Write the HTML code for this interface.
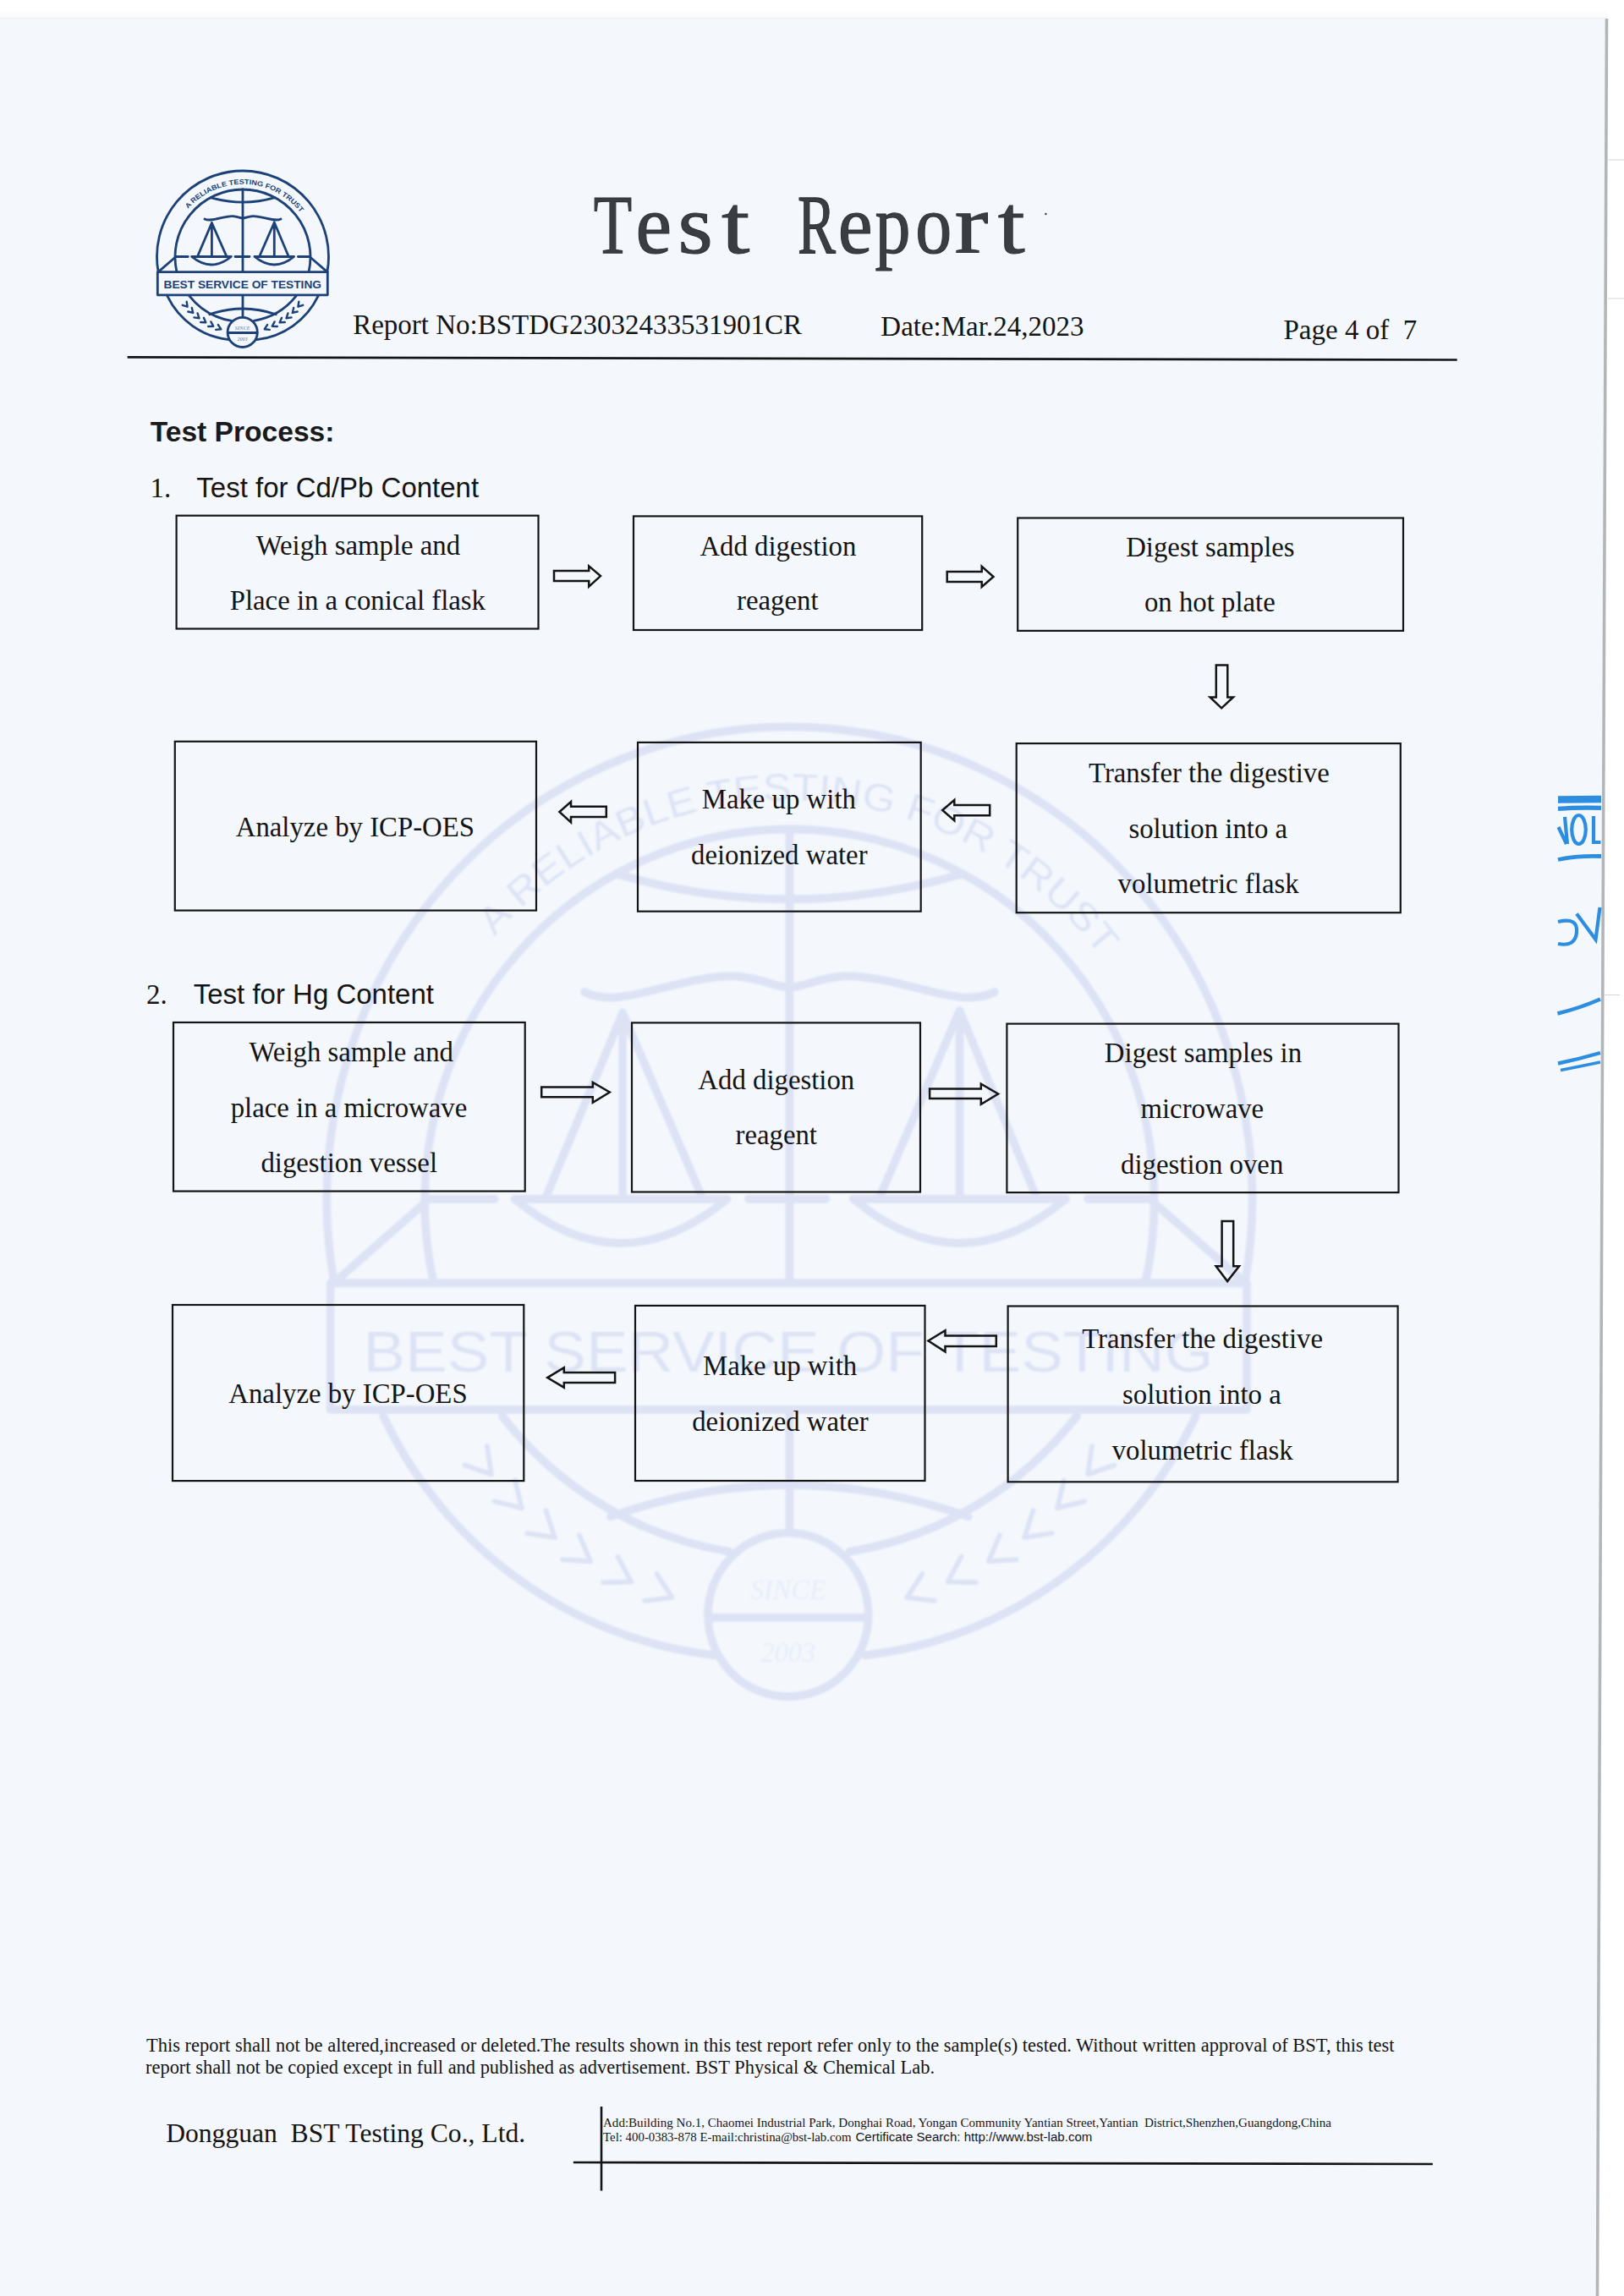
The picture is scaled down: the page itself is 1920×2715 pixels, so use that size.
<!DOCTYPE html><html><head><meta charset="utf-8"><title>Test Report</title>
<style>html,body{margin:0;padding:0;background:#fff;width:1920px;height:2715px;overflow:hidden}svg{position:absolute;left:0;top:0;display:block}text{white-space:pre}</style></head><body>
<svg width="1920" height="2715" viewBox="0 0 1920 2715">
<defs>
<g id="logo" fill="none" stroke="currentColor" stroke-linecap="round" stroke-linejoin="round">
<path d="M187.13,321.6 A101.5,101.5 0 1 1 386.87,321.6"/>
<path d="M208.96,321.6 A80,80 0 1 1 365.04,321.6"/>
<path d="M197.9,350.2 A91.9,91.9 0 0 0 270.5,401.6 M376.1,350.2 A91.9,91.9 0 0 1 303.5,401.6"/>
<path d="M224,350.2 A79.4,79.4 0 0 0 273.8,379.3 M350,350.2 A79.4,79.4 0 0 1 300.2,379.3"/>
<path d="M249,233.6 Q287,244.5 325,233.6"/>
<path d="M247.8,371.8 Q287,358.2 326.2,371.8"/>
<path d="M287,224 L287,321.6 M287,348.8 L287,375"/>
<path d="M187,321.6 L208,303.5 M387,321.6 L366,303.5"/>
<path d="M208,303.5 L222.3,303.5 M278,303.5 L295,303.5 M352.4,303.5 L366,303.5"/>
<path d="M233.4,303.5 L250.4,263.5 L268,303.5 M250.4,263.5 L250.4,303.5"/>
<path d="M306.6,303.5 L324.3,263 L341.3,303.5 M324.3,263 L324.3,303.5"/>
<path d="M226.7,303.5 L273.3,303.5 Q250,322.5 226.7,303.5 M301,303.5 L347.6,303.5 Q324.3,322.5 301,303.5"/>
<path d="M242,259 C250,263 262,255.5 275,255.6 C281,256 284,258 287,258 C290,258 293,256 299,255.6 C312,255.5 324,263 332,259"/>
<rect x="186.3" y="321.6" width="201" height="27.2" fill="#F4F8FD"/>
<circle cx="286.7" cy="392.9" r="17.6" fill="#F4F8FD"/>
<path d="M269.5,393.5 L304,393.5"/>
<path d="M-2.6,-3.2 L2.6,0 L-2.6,3.2" transform="translate(219.9,360.7) rotate(50)" style="stroke-width:var(--cw)"/>
<path d="M2.6,-3.2 L-2.6,0 L2.6,3.2" transform="translate(354.1,360.7) rotate(-50)" style="stroke-width:var(--cw)"/>
<path d="M-2.6,-3.2 L2.6,0 L-2.6,3.2" transform="translate(226.4,368.1) rotate(45)" style="stroke-width:var(--cw)"/>
<path d="M2.6,-3.2 L-2.6,0 L2.6,3.2" transform="translate(347.6,368.1) rotate(-45)" style="stroke-width:var(--cw)"/>
<path d="M-2.6,-3.2 L2.6,0 L-2.6,3.2" transform="translate(233.5,374.6) rotate(40)" style="stroke-width:var(--cw)"/>
<path d="M2.6,-3.2 L-2.6,0 L2.6,3.2" transform="translate(340.5,374.6) rotate(-40)" style="stroke-width:var(--cw)"/>
<path d="M-2.6,-3.2 L2.6,0 L-2.6,3.2" transform="translate(241.2,379.9) rotate(35)" style="stroke-width:var(--cw)"/>
<path d="M2.6,-3.2 L-2.6,0 L2.6,3.2" transform="translate(332.8,379.9) rotate(-35)" style="stroke-width:var(--cw)"/>
<path d="M-2.6,-3.2 L2.6,0 L-2.6,3.2" transform="translate(250,384.5) rotate(30)" style="stroke-width:var(--cw)"/>
<path d="M2.6,-3.2 L-2.6,0 L2.6,3.2" transform="translate(324,384.5) rotate(-30)" style="stroke-width:var(--cw)"/>
<path d="M-2.6,-3.2 L2.6,0 L-2.6,3.2" transform="translate(258.9,388.1) rotate(25)" style="stroke-width:var(--cw)"/>
<path d="M2.6,-3.2 L-2.6,0 L2.6,3.2" transform="translate(315.1,388.1) rotate(-25)" style="stroke-width:var(--cw)"/>
</g>
<g id="logotext" fill="currentColor" stroke="none">
<text x="193.5" y="340.6" font-family="Liberation Sans" font-size="12.4" textLength="186.5" lengthAdjust="spacingAndGlyphs">BEST SERVICE OF TESTING</text>
<path id="arcp" d="M212.35,260.9 A86.2,86.2 0 0 1 361.65,260.9" fill="none" stroke="none"/>
<text font-family="Liberation Sans" font-size="8.2"><textPath href="#arcp" startOffset="17" textLength="151.95" lengthAdjust="spacingAndGlyphs">A RELIABLE TESTING FOR TRUST</textPath></text>
<text x="286.7" y="389.5" font-family="Liberation Serif" font-style="italic" font-size="6" text-anchor="middle" opacity="0.55">SINCE</text>
<text x="286.7" y="403" font-family="Liberation Serif" font-style="italic" font-size="6" text-anchor="middle" opacity="0.55">2003</text>
</g>
</defs>
<polygon points="0,21 1899.5,21 1888.5,2715 0,2715" fill="#F4F8FD"/>
<rect x="0" y="14" width="1900" height="7" fill="#fcfcfd"/>
<rect x="0" y="20.5" width="1900" height="2" fill="#eef3f6"/>
<filter id="wmblur" x="-5%" y="-5%" width="110%" height="110%"><feGaussianBlur stdDeviation="1.2"/></filter>
<g filter="url(#wmblur)"><g color="#dde3f4" style="--cw:1.1" stroke-width="1.8" font-weight="normal" transform="matrix(5.39 0 0 5.5 -613.5 -251.5)"><use href="#logo"/><use href="#logotext"/></g></g>
<line x1="1899.5" y1="22" x2="1888.5" y2="2715" stroke="#b3b6b9" stroke-width="3.6"/>
<path d="M1901,189 L1920,189 M1901,353 L1920,353 M1896,1176.5 L1915,1176.5" stroke="#d4d6d8" stroke-width="1.2"/>
<g color="#1b4178" style="--cw:2.4" stroke-width="2.8" font-weight="bold"><use href="#logo"/><use href="#logotext"/></g>
<g font-family="Liberation Serif" font-size="100" fill="#3a3d41" stroke="#303236" stroke-width="1.1" text-anchor="middle">
<text transform="translate(724.5,298.6) scale(0.744,1)" x="0" y="0" vector-effect="non-scaling-stroke">T</text>
<text transform="translate(772.9,298.6) scale(0.96,1)" x="0" y="0" vector-effect="non-scaling-stroke">e</text>
<text transform="translate(822.1,298.6) scale(1.06,1)" x="0" y="0" vector-effect="non-scaling-stroke">s</text>
<text transform="translate(869.7,298.6) scale(1.2,1)" x="0" y="0" vector-effect="non-scaling-stroke">t</text>
<text transform="translate(965.4,298.6) scale(0.675,1)" x="0" y="0" vector-effect="non-scaling-stroke">R</text>
<text transform="translate(1011.2,298.6) scale(0.92,1)" x="0" y="0" vector-effect="non-scaling-stroke">e</text>
<text transform="translate(1055.5,298.6) scale(0.84,1)" x="0" y="0" vector-effect="non-scaling-stroke">p</text>
<text transform="translate(1103.7,298.6) scale(0.86,1)" x="0" y="0" vector-effect="non-scaling-stroke">o</text>
<text transform="translate(1148.6,298.6) scale(1.2,1)" x="0" y="0" vector-effect="non-scaling-stroke">r</text>
<text transform="translate(1195.8,298.6) scale(1.15,1)" x="0" y="0" vector-effect="non-scaling-stroke">t</text>
</g>
<circle cx="1236.4" cy="253" r="1.3" fill="#444"/>
<g font-family="Liberation Serif" font-size="33" fill="#141414">
<text x="417.2" y="395">Report No:BSTDG23032433531901CR</text>
<text x="1041.3" y="397">Date:Mar.24,2023</text>
<text x="1517.5" y="400.5">Page 4 of  7</text>
</g>
<line x1="150.7" y1="422.4" x2="1722.7" y2="425.5" stroke="#141414" stroke-width="2.6"/>
<text x="177.7" y="522" font-family="Liberation Sans" font-weight="bold" font-size="33.6" fill="#1a1a1a">Test Process:</text>
<text x="177.5" y="588" font-family="Liberation Serif" font-size="33" fill="#141414">1.</text>
<text x="232.3" y="588" font-family="Liberation Sans" font-size="33" fill="#141414">Test for Cd/Pb Content</text>
<text x="173" y="1187.3" font-family="Liberation Serif" font-size="33" fill="#141414">2.</text>
<text x="228.7" y="1187.3" font-family="Liberation Sans" font-size="33" fill="#141414">Test for Hg Content</text>
<g fill="none" stroke="#141414" stroke-width="2.2">
<rect x="208.6" y="609.7" width="427.9" height="133.8"/>
<rect x="749" y="610.4" width="341.2" height="134.6"/>
<rect x="1203.2" y="612.5" width="455.8" height="133.4"/>
<rect x="206.8" y="876.8" width="427.2" height="199.8"/>
<rect x="754" y="877.9" width="334.7" height="199.8"/>
<rect x="1201.7" y="879.1" width="454.1" height="200.1"/>
<rect x="205" y="1209" width="415.7" height="199.6"/>
<rect x="747" y="1209.4" width="341" height="200.1"/>
<rect x="1190.4" y="1210.6" width="463.1" height="199.5"/>
<rect x="204" y="1543" width="415.3" height="208.1"/>
<rect x="751" y="1543.9" width="342.5" height="207.1"/>
<rect x="1191.6" y="1544.5" width="461" height="207.8"/>
</g>
<g font-family="Liberation Serif" font-size="32.8" fill="#141414" text-anchor="middle">
<text x="423.4" y="656.4">Weigh sample and</text>
<text x="422.85" y="721.4">Place in a conical flask</text>
<text x="919.85" y="656.6">Add digestion</text>
<text x="919.3" y="721.2">reagent</text>
<text x="1430.9" y="658">Digest samples</text>
<text x="1430.35" y="722.8">on hot plate</text>
<text x="419.9" y="989.2">Analyze by ICP-OES</text>
<text x="920.85" y="956">Make up with</text>
<text x="921.3" y="1022.3">deionized water</text>
<text x="1429.4" y="924.7">Transfer the digestive</text>
<text x="1428.3" y="990.8">solution into a</text>
<text x="1428.6" y="1055.5">volumetric flask</text>
<text x="415.25" y="1254.5">Weigh sample and</text>
<text x="412.5" y="1321">place in a microwave</text>
<text x="412.7" y="1385.7">digestion vessel</text>
<text x="917.8" y="1288">Add digestion</text>
<text x="917.75" y="1353.2">reagent</text>
<text x="1422.45" y="1256.2">Digest samples in</text>
<text x="1421.35" y="1321.8">microwave</text>
<text x="1421.2" y="1387.7">digestion oven</text>
<text x="411.45" y="1658.8">Analyze by ICP-OES</text>
<text x="922.1" y="1626">Make up with</text>
<text x="922.45" y="1691.6">deionized water</text>
<text x="1421.6" y="1594">Transfer the digestive</text>
<text x="1420.9" y="1660.2">solution into a</text>
<text x="1421.7" y="1725.5">volumetric flask</text>
</g>
<g fill="none" stroke="#141414" stroke-width="2.5" stroke-linejoin="miter">
<polygon points="655,675 696.2,675 696.2,669.4 710,681.1 696.2,693.7 696.2,687 655,687"/>
<polygon points="1119.7,675.9 1160.7,675.9 1160.7,669.7 1174.5,682 1160.7,694 1160.7,687.9 1119.7,687.9"/>
<polygon points="640.2,1285.6 700.8,1285.6 700.8,1280 720.8,1291.5 700.8,1303.7 700.8,1297.3 640.2,1297.3"/>
<polygon points="1099.1,1287.4 1159.8,1287.4 1159.8,1281.7 1180.1,1293.5 1159.8,1305.7 1159.8,1299 1099.1,1299"/>
<polygon points="716.8,953.7 675,953.7 675,948 661.4,960 675,972.5 675,966 716.8,966"/>
<polygon points="1170.2,951.9 1128.3,951.9 1128.3,946 1114.2,958 1128.3,970.3 1128.3,964.2 1170.2,964.2"/>
<polygon points="727.1,1623 666.8,1623 666.8,1617.3 647.2,1629.1 666.8,1640.7 666.8,1634.9 727.1,1634.9"/>
<polygon points="1177.8,1579.4 1117.5,1579.4 1117.5,1573.3 1097.5,1585.5 1117.5,1598.4 1117.5,1591.9 1177.8,1591.9"/>
<polygon points="1437.8,786.6 1451.3,786.6 1451.3,824.5 1458,824.5 1444.2,837.4 1430.6,824.5 1437.8,824.5"/>
<polygon points="1444.6,1444 1458.2,1444 1458.2,1497.3 1465,1497.3 1451.1,1515.1 1437.6,1497.3 1444.6,1497.3"/>
</g>
<g font-family="Liberation Serif" fill="#141414">
<text x="173" y="2425.9" font-size="22.45" textLength="1475.5" lengthAdjust="spacingAndGlyphs">This report shall not be altered,increased or deleted.The results shown in this test report refer only to the sample(s) tested. Without written approval of BST, this test</text>
<text x="172" y="2451.7" font-size="22.45">report shall not be copied except in full and published as advertisement. BST Physical &amp; Chemical Lab.</text>
<text x="196.2" y="2532.5" font-size="31.6">Dongguan  BST Testing Co., Ltd.</text>
<text x="713" y="2514.6" font-size="15" textLength="861" lengthAdjust="spacingAndGlyphs">Add:Building No.1, Chaomei Industrial Park, Donghai Road, Yongan Community Yantian Street,Yantian  District,Shenzhen,Guangdong,China</text>
<text x="713" y="2531.9" font-size="14.9" textLength="293.6" lengthAdjust="spacingAndGlyphs">Tel: 400-0383-878 E-mail:christina@bst-lab.com</text>
</g>
<text x="1011.4" y="2531.9" font-family="Liberation Sans" font-size="15.1" fill="#141414" textLength="280" lengthAdjust="spacingAndGlyphs">Certificate Search: http://www.bst-lab.com</text>
<line x1="677.8" y1="2557" x2="1693.8" y2="2559" stroke="#141414" stroke-width="2.6"/>
<line x1="711" y1="2491" x2="711" y2="2590.5" stroke="#141414" stroke-width="2.6"/>
<g stroke="#2d8de0" fill="none" stroke-linecap="butt">
<path d="M1842,945.5 L1893,945" stroke-width="8.5"/>
<path d="M1842,956.3 Q1866,954.5 1893,955.3" stroke-width="5.2"/>
<path d="M1842.5,978 L1852,998 M1850,966 L1853,998" stroke-width="4.2"/>
<ellipse cx="1866.5" cy="981" rx="8.3" ry="17" stroke-width="4.2"/>
<path d="M1884,965 L1884,996 L1892.5,996" stroke-width="4.2"/>
<path d="M1842,1016.5 Q1866,1011.5 1893,1012.5" stroke-width="4.8"/>
<path d="M1842,1090 Q1866,1084 1864,1103 Q1862,1120 1842,1116" stroke-width="4.2"/>
<path d="M1864,1080.5 L1886.5,1111 L1891.5,1073" stroke-width="4.2"/>
<path d="M1841.5,1198.5 Q1868,1192 1892,1181.5" stroke-width="4.4"/>
<path d="M1842,1257.5 Q1868,1252 1892,1245" stroke-width="4.4"/>
<path d="M1845,1265.5 Q1868,1261 1892,1256" stroke-width="3.4"/>
</g>
</svg></body></html>
